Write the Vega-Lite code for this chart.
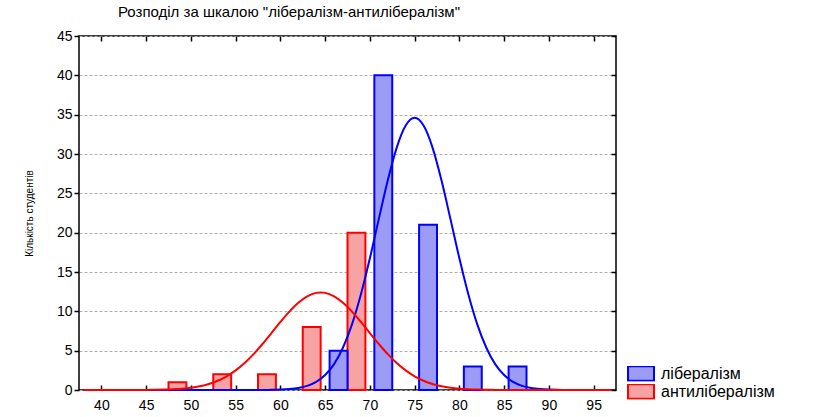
{
  "$schema": "https://vega.github.io/schema/vega-lite/v6.json",
  "width": 537,
  "height": 354,
  "autosize": {"type": "none"},
  "padding": {"left": 79, "top": 36, "right": 216, "bottom": 27},
  "background": "white",
  "title": {
    "text": "Розподіл за шкалою \"лібералізм-антилібералізм\"",
    "anchor": "start",
    "frame": "group",
    "dx": 39,
    "offset": 9,
    "font": "Liberation Sans",
    "fontSize": 15,
    "fontWeight": "normal",
    "color": "black"
  },
  "config": {
    "view": {"stroke": "black", "strokeWidth": 1.5},
    "font": "Liberation Sans",
    "axis": {"labelFont": "Liberation Sans", "labelFontSize": 14, "labelColor": "black", "domain": false, "tickColor": "black", "tickWidth": 1.5}
  },
  "datasets": {
    "bars": [
      {"series": "антилібералізм", "lo": 47.5, "hi": 49.5, "count": 1},
      {"series": "антилібералізм", "lo": 52.5, "hi": 54.5, "count": 2},
      {"series": "антилібералізм", "lo": 57.5, "hi": 59.5, "count": 2},
      {"series": "антилібералізм", "lo": 62.5, "hi": 64.5, "count": 8},
      {"series": "антилібералізм", "lo": 67.5, "hi": 69.5, "count": 20},
      {"series": "лібералізм", "lo": 65.5, "hi": 67.5, "count": 5},
      {"series": "лібералізм", "lo": 70.5, "hi": 72.5, "count": 40},
      {"series": "лібералізм", "lo": 75.5, "hi": 77.5, "count": 21},
      {"series": "лібералізм", "lo": 80.5, "hi": 82.5, "count": 3},
      {"series": "лібералізм", "lo": 85.5, "hi": 87.5, "count": 3}
    ],
    "curves": [
      {"series": "лібералізм", "x": 38, "y": 0},
      {"series": "лібералізм", "x": 45, "y": 0},
      {"series": "лібералізм", "x": 50, "y": 0},
      {"series": "лібералізм", "x": 55, "y": 0},
      {"series": "лібералізм", "x": 57, "y": 0.003},
      {"series": "лібералізм", "x": 58, "y": 0.008},
      {"series": "лібералізм", "x": 59, "y": 0.02},
      {"series": "лібералізм", "x": 60, "y": 0.05},
      {"series": "лібералізм", "x": 61, "y": 0.117},
      {"series": "лібералізм", "x": 62, "y": 0.256},
      {"series": "лібералізм", "x": 63, "y": 0.529},
      {"series": "лібералізм", "x": 64, "y": 1.03},
      {"series": "лібералізм", "x": 65, "y": 1.9},
      {"series": "лібералізм", "x": 66, "y": 3.29},
      {"series": "лібералізм", "x": 67, "y": 5.4},
      {"series": "лібералізм", "x": 68, "y": 8.34},
      {"series": "лібералізм", "x": 69, "y": 12.17},
      {"series": "лібералізм", "x": 70, "y": 16.74},
      {"series": "лібералізм", "x": 71, "y": 21.75},
      {"series": "лібералізм", "x": 72, "y": 26.65},
      {"series": "лібералізм", "x": 73, "y": 30.81},
      {"series": "лібералізм", "x": 74, "y": 33.61},
      {"series": "лібералізм", "x": 75, "y": 34.6},
      {"series": "лібералізм", "x": 76, "y": 33.61},
      {"series": "лібералізм", "x": 77, "y": 30.81},
      {"series": "лібералізм", "x": 78, "y": 26.65},
      {"series": "лібералізм", "x": 79, "y": 21.75},
      {"series": "лібералізм", "x": 80, "y": 16.74},
      {"series": "лібералізм", "x": 81, "y": 12.17},
      {"series": "лібералізм", "x": 82, "y": 8.34},
      {"series": "лібералізм", "x": 83, "y": 5.4},
      {"series": "лібералізм", "x": 84, "y": 3.29},
      {"series": "лібералізм", "x": 85, "y": 1.9},
      {"series": "лібералізм", "x": 86, "y": 1.03},
      {"series": "лібералізм", "x": 87, "y": 0.529},
      {"series": "лібералізм", "x": 88, "y": 0.256},
      {"series": "лібералізм", "x": 89, "y": 0.117},
      {"series": "лібералізм", "x": 90, "y": 0.05},
      {"series": "лібералізм", "x": 91, "y": 0.02},
      {"series": "лібералізм", "x": 92, "y": 0.008},
      {"series": "лібералізм", "x": 93, "y": 0.003},
      {"series": "лібералізм", "x": 95, "y": 0},
      {"series": "лібералізм", "x": 97, "y": 0},
      {"series": "антилібералізм", "x": 38, "y": 0},
      {"series": "антилібералізм", "x": 41, "y": 0},
      {"series": "антилібералізм", "x": 42, "y": 0.001},
      {"series": "антилібералізм", "x": 43, "y": 0.003},
      {"series": "антилібералізм", "x": 44, "y": 0.007},
      {"series": "антилібералізм", "x": 45, "y": 0.014},
      {"series": "антилібералізм", "x": 46, "y": 0.028},
      {"series": "антилібералізм", "x": 47, "y": 0.053},
      {"series": "антилібералізм", "x": 48, "y": 0.097},
      {"series": "антилібералізм", "x": 49, "y": 0.172},
      {"series": "антилібералізм", "x": 50, "y": 0.294},
      {"series": "антилібералізм", "x": 51, "y": 0.484},
      {"series": "антилібералізм", "x": 52, "y": 0.769},
      {"series": "антилібералізм", "x": 53, "y": 1.18},
      {"series": "антилібералізм", "x": 54, "y": 1.74},
      {"series": "антилібералізм", "x": 55, "y": 2.49},
      {"series": "антилібералізм", "x": 56, "y": 3.43},
      {"series": "антилібералізм", "x": 57, "y": 4.56},
      {"series": "антилібералізм", "x": 58, "y": 5.85},
      {"series": "антилібералізм", "x": 59, "y": 7.24},
      {"series": "антилібералізм", "x": 60, "y": 8.65},
      {"series": "антилібералізм", "x": 61, "y": 9.97},
      {"series": "антилібералізм", "x": 62, "y": 11.09},
      {"series": "антилібералізм", "x": 63, "y": 11.91},
      {"series": "антилібералізм", "x": 64, "y": 12.345},
      {"series": "антилібералізм", "x": 64.5, "y": 12.4},
      {"series": "антилібералізм", "x": 65, "y": 12.345},
      {"series": "антилібералізм", "x": 66, "y": 11.91},
      {"series": "антилібералізм", "x": 67, "y": 11.09},
      {"series": "антилібералізм", "x": 68, "y": 9.97},
      {"series": "антилібералізм", "x": 69, "y": 8.65},
      {"series": "антилібералізм", "x": 70, "y": 7.24},
      {"series": "антилібералізм", "x": 71, "y": 5.85},
      {"series": "антилібералізм", "x": 72, "y": 4.56},
      {"series": "антилібералізм", "x": 73, "y": 3.43},
      {"series": "антилібералізм", "x": 74, "y": 2.49},
      {"series": "антилібералізм", "x": 75, "y": 1.74},
      {"series": "антилібералізм", "x": 76, "y": 1.18},
      {"series": "антилібералізм", "x": 77, "y": 0.769},
      {"series": "антилібералізм", "x": 78, "y": 0.484},
      {"series": "антилібералізм", "x": 79, "y": 0.294},
      {"series": "антилібералізм", "x": 80, "y": 0.172},
      {"series": "антилібералізм", "x": 81, "y": 0.097},
      {"series": "антилібералізм", "x": 82, "y": 0.053},
      {"series": "антилібералізм", "x": 83, "y": 0.028},
      {"series": "антилібералізм", "x": 84, "y": 0.014},
      {"series": "антилібералізм", "x": 85, "y": 0.007},
      {"series": "антилібералізм", "x": 86, "y": 0.003},
      {"series": "антилібералізм", "x": 87, "y": 0.001},
      {"series": "антилібералізм", "x": 88, "y": 0},
      {"series": "антилібералізм", "x": 97, "y": 0}
    ]
  },
  "layer": [
    {
      "data": {"name": "bars"},
      "mark": {"type": "rect", "opacity": 0},
      "encoding": {
        "x": {
          "field": "lo", "type": "quantitative",
          "scale": {"domain": [37.5, 97.5], "nice": false, "zero": false},
          "axis": {"orient": "top", "values": [40, 45, 50, 55, 60, 65, 70, 75, 80, 85, 90, 95], "title": null, "grid": false, "labels": false, "tickSize": -5}
        },
        "x2": {"field": "hi"},
        "y": {
          "field": "count", "type": "quantitative",
          "scale": {"domain": [0, 45], "nice": false},
          "axis": {"orient": "right", "values": [0, 5, 10, 15, 20, 25, 30, 35, 40, 45], "title": null, "grid": false, "labels": false, "tickSize": -5}
        },
        "y2": {"datum": 0}
      }
    },
    {
      "data": {"name": "bars"},
      "mark": {"type": "rect", "strokeWidth": 2},
      "encoding": {
        "x": {
          "field": "lo", "type": "quantitative",
          "axis": {"orient": "bottom", "values": [40, 45, 50, 55, 60, 65, 70, 75, 80, 85, 90, 95], "title": null, "grid": false, "tickSize": -5, "labelPadding": 13, "labelFlush": false}
        },
        "x2": {"field": "hi"},
        "y": {
          "field": "count", "type": "quantitative",
          "axis": {"orient": "left", "values": [0, 5, 10, 15, 20, 25, 30, 35, 40, 45], "title": "Кількість студентів", "titleFont": "Liberation Sans", "titleFontSize": 10, "titleFontWeight": "normal", "titlePadding": 22, "titleColor": "black", "grid": true, "gridColor": "#b0b0b0", "gridDash": [3, 2], "gridWidth": 1, "tickSize": 5, "labelPadding": 2}
        },
        "y2": {"datum": 0},
        "fill": {
          "field": "series", "type": "nominal",
          "scale": {"domain": ["лібералізм", "антилібералізм"], "range": ["#9c9cf6", "#f7a3a3"]},
          "legend": {
            "orient": "none", "legendX": 548, "legendY": 330, "title": null,
            "symbolType": "M-1,-0.55H1V0.55H-1Z", "symbolSize": 676, "symbolStrokeWidth": 2,
            "labelFont": "Liberation Sans", "labelFontSize": 16, "labelColor": "black",
            "labelOffset": 6, "clipHeight": 15, "rowPadding": 1
          }
        },
        "stroke": {
          "field": "series", "type": "nominal",
          "scale": {"domain": ["лібералізм", "антилібералізм"], "range": ["#0000ff", "#ff0000"]},
          "legend": {
            "orient": "none", "legendX": 548, "legendY": 330, "title": null,
            "symbolType": "M-1,-0.55H1V0.55H-1Z", "symbolSize": 676, "symbolStrokeWidth": 2,
            "labelFont": "Liberation Sans", "labelFontSize": 16, "labelColor": "black",
            "labelOffset": 6, "clipHeight": 15, "rowPadding": 1
          }
        }
      }
    },
    {
      "data": {"name": "curves"},
      "mark": {"type": "line", "interpolate": "monotone", "strokeWidth": 2},
      "encoding": {
        "x": {"field": "x", "type": "quantitative", "axis": null},
        "y": {"field": "y", "type": "quantitative", "axis": null},
        "stroke": {"field": "series", "type": "nominal", "legend": null}
      }
    }
  ],
  "resolve": {"axis": {"x": "independent", "y": "independent"}}
}
